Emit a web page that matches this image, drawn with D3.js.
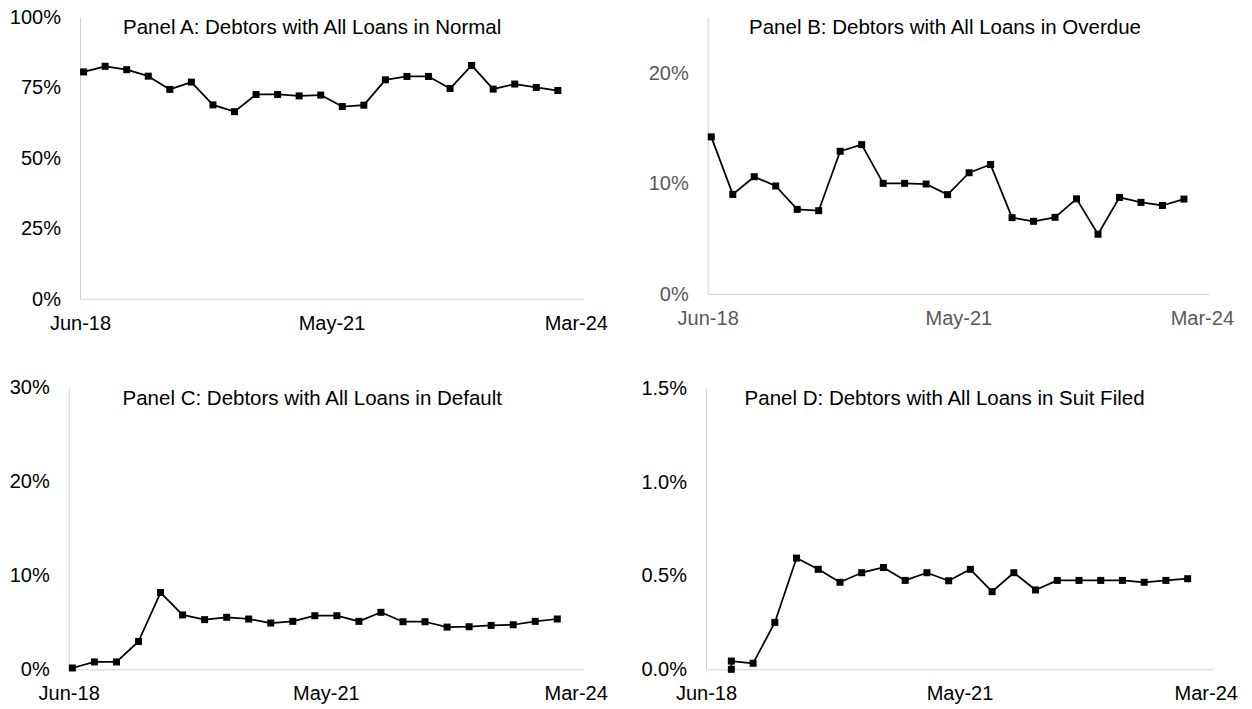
<!DOCTYPE html>
<html>
<head>
<meta charset="utf-8">
<script src="https://cdn.jsdelivr.net/npm/d3@7"></script>
<style>
  body { margin: 0; background: #fff; }
  svg { display: block; font-family: "Liberation Sans", Arial, sans-serif; }
</style>
</head>
<body>
<div id="chart"></div>
<script>
// quarter ends, Jun-18 .. Dec-23
var quarters = ["2018-06","2018-09","2018-12","2019-03","2019-06","2019-09","2019-12",
  "2020-03","2020-06","2020-09","2020-12","2021-03","2021-06","2021-09","2021-12",
  "2022-03","2022-06","2022-09","2022-12","2023-03","2023-06","2023-09","2023-12"];

// share of debtors (%)
var normalPct  = [80.5, 82.5, 81.3, 79.0, 74.3, 76.9, 68.8, 66.4, 72.5, 72.5, 72.0, 72.3,
  68.2, 68.7, 77.7, 78.9, 78.9, 74.6, 82.8, 74.4, 76.2, 75.0, 73.9];
var overduePct = [14.2, 9.0, 10.6, 9.76, 7.65, 7.53, 12.9, 13.5, 10.0, 10.0, 9.94, 8.98,
  10.96, 11.7, 6.9, 6.57, 6.93, 8.6, 5.4, 8.73, 8.28, 8.0, 8.58];
var defaultPct = [0.14, 0.78, 0.78, 2.95, 8.15, 5.77, 5.27, 5.52, 5.34, 4.91, 5.09, 5.69,
  5.69, 5.09, 6.05, 5.05, 5.05, 4.48, 4.52, 4.66, 4.73, 5.09, 5.34];

// suit filed series starts Sep-18 (two readings that quarter)
var suitQuarters = ["2018-09","2018-09","2018-12","2019-03","2019-06","2019-09","2019-12",
  "2020-03","2020-06","2020-09","2020-12","2021-03","2021-06","2021-09","2021-12",
  "2022-03","2022-06","2022-09","2022-12","2023-03","2023-06","2023-09","2023-12"];
var suitPct = [0.00, 0.044, 0.032, 0.25, 0.593, 0.533, 0.464, 0.515, 0.543, 0.474, 0.515, 0.472,
  0.533, 0.414, 0.515, 0.423, 0.474, 0.474, 0.474, 0.474, 0.464, 0.474, 0.483];

var xTickMonths = ["2018-06", "2021-05", "2024-03"];
var yTicksA = [0, 25, 50, 75, 100];
var yTicksB = [0, 10, 20];
var yTicksC = [0, 10, 20, 30];
var yTicksD = [0, 0.5, 1.0, 1.5];

var W = 1252, H = 709;
var svg = d3.select("#chart").append("svg")
  .attr("width", W)
  .attr("height", H);

var parseMonth = d3.timeParse("%Y-%m"),
    fmtMonth = d3.timeFormat("%b-%y");

// months since Jun-18
function monthIndex(s) {
  var p = s.split("-");
  return (+p[0] - 2018) * 12 + (+p[1] - 6);
}

var pctInt = function(d) { return d + "%"; };
var pctOne = function(d) { return d.toFixed(1) + "%"; };

var panels = [
  {title: "Panel A: Debtors with All Loans in Normal", dates: quarters, values: normalPct,
   yMax: 100, ticks: yTicksA, fmt: pctInt, color: "#000",
   left: 80, right: 583, top: 17, bottom: 298.7, tx: 123, ty: 34},
  {title: "Panel B: Debtors with All Loans in Overdue", dates: quarters, values: overduePct,
   yMax: 25, ticks: yTicksB, fmt: pctInt, color: "#595959",
   left: 707.7, right: 1209, top: 17.4, bottom: 294, tx: 749, ty: 33.5},
  {title: "Panel C: Debtors with All Loans in Default", dates: quarters, values: defaultPct,
   yMax: 30, ticks: yTicksC, fmt: pctInt, color: "#000",
   left: 68.7, right: 583, top: 386.7, bottom: 669.3, tx: 122.5, ty: 405},
  {title: "Panel D: Debtors with All Loans in Suit Filed", dates: suitQuarters, values: suitPct,
   yMax: 1.5, ticks: yTicksD, fmt: pctOne, color: "#000",
   left: 706, right: 1213, top: 388, bottom: 669.3, tx: 744.6, ty: 405}
];

panels.forEach(function(p) {
  var x = d3.scaleLinear().domain([0, 70]).range([p.left, p.right]);
  var y = d3.scaleLinear().domain([0, p.yMax]).range([p.bottom, p.top]);

  var g = svg.append("g");

  // y axis
  var ya = g.append("g")
    .attr("transform", "translate(" + p.left + ",0)")
    .call(d3.axisLeft(y).tickValues(p.ticks).tickFormat(p.fmt).tickSize(0).tickPadding(19));
  ya.select(".domain").attr("stroke", "#d0d0d0").attr("stroke-width", 1);
  ya.selectAll("text")
    .attr("font-size", 20)
    .attr("font-family", "Liberation Sans, Arial, sans-serif")
    .attr("fill", p.color);

  // x axis
  var xa = g.append("g")
    .attr("transform", "translate(0," + p.bottom + ")")
    .call(d3.axisBottom(x)
      .tickValues(xTickMonths.map(monthIndex))
      .tickFormat(function(d, i) { return fmtMonth(parseMonth(xTickMonths[i])); })
      .tickSize(0));
  xa.select(".domain").attr("stroke", "#d0d0d0").attr("stroke-width", 1);
  xa.selectAll("text")
    .attr("y", 24)
    .attr("dy", "0.35em")
    .attr("font-size", 20)
    .attr("font-family", "Liberation Sans, Arial, sans-serif")
    .attr("fill", p.color);

  // title
  g.append("text")
    .attr("x", p.tx)
    .attr("y", p.ty)
    .attr("font-size", 20.5)
    .attr("fill", "#000")
    .text(p.title);

  var pts = p.values.map(function(v, i) {
    return {m: monthIndex(p.dates[i]) + 0.5, v: v};
  });

  g.append("path")
    .datum(pts)
    .attr("fill", "none")
    .attr("stroke", "#000")
    .attr("stroke-width", 1.75)
    .attr("stroke-linejoin", "round")
    .attr("d", d3.line()
      .x(function(d) { return x(d.m); })
      .y(function(d) { return y(d.v); }));

  g.selectAll("rect.mk")
    .data(pts)
    .enter()
    .append("rect")
      .attr("class", "mk")
      .attr("x", function(d) { return x(d.m) - 3.5; })
      .attr("y", function(d) { return y(d.v) - 3.5; })
      .attr("width", 7)
      .attr("height", 7)
      .attr("fill", "#000");
});
</script>
</body>
</html>
